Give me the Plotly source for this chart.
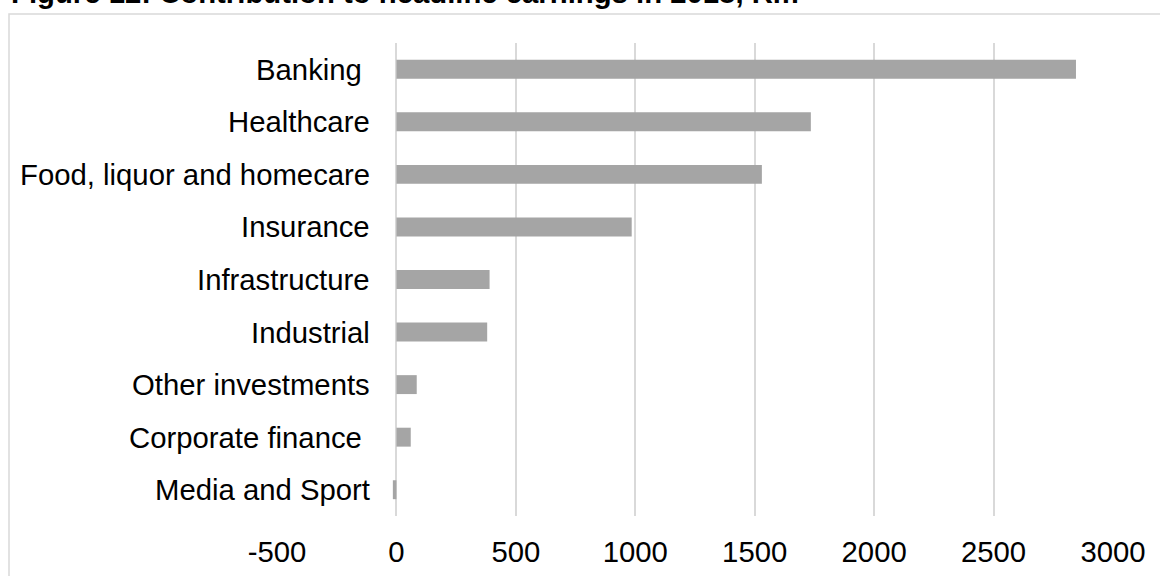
import plotly.graph_objects as go

# Contribution to headline earnings by business segment, Rm
categories = [
    "Banking ",
    "Healthcare",
    "Food, liquor and homecare",
    "Insurance",
    "Infrastructure",
    "Industrial",
    "Other investments",
    "Corporate finance ",
    "Media and Sport",
]
earnings_rm = [2845, 1735, 1530, 985, 390, 380, 85, 60, -15]

x_tick_values = [-500, 0, 500, 1000, 1500, 2000, 2500, 3000]
x_tick_labels = ["-500", "0", "500", "1000", "1500", "2000", "2500", "3000"]

title_text = "Figure 12: Contribution to headline earnings in 2018, Rm"

W, H = 1160, 576
L, R, T, B = 277, 47, 43, 60
PW, PH = W - L - R, H - T - B

FONT = "Liberation Sans, Arial, sans-serif"
FONT_SIZE = 29.3
GRID = "#d9d9d9"
BAR = "#a5a5a5"


def px_x(px):
    return (px - L) / PW


def px_y(py):
    return (H - B - py) / PH


fig = go.Figure(
    go.Bar(
        x=earnings_rm,
        y=categories,
        orientation="h",
        marker=dict(color=BAR, line=dict(width=0)),
        hoverinfo="x+y",
    )
)

# category labels sit just left of the zero line, over the plot area
annotations = [
    dict(
        x=0, y=cat, xref="x", yref="y",
        text=cat, showarrow=False,
        xanchor="right", yanchor="middle", xshift=-24, yshift=0,
        font=dict(family=FONT, size=FONT_SIZE, color="#000000"),
    )
    for cat in categories
]

annotations.append(
    dict(
        x=px_x(9), y=px_y(11), xref="paper", yref="paper",
        text="<b>" + title_text + "</b>", showarrow=False,
        xanchor="left", yanchor="bottom",
        font=dict(family=FONT, size=FONT_SIZE, color="#000000"),
    )
)

fig.update_layout(
    width=W, height=H,
    margin=dict(l=L, r=R, t=T, b=B, pad=0, autoexpand=False),
    paper_bgcolor="#ffffff",
    plot_bgcolor="#ffffff",
    showlegend=False,
    bargap=0.64,
    font=dict(family=FONT, size=FONT_SIZE, color="#000000"),
    annotations=annotations,
    shapes=[
        dict(
            type="rect", xref="paper", yref="paper",
            x0=px_x(9), x1=px_x(1170), y0=px_y(600), y1=px_y(14),
            line=dict(color=GRID, width=1.5), fillcolor="rgba(0,0,0,0)",
        )
    ],
    xaxis=dict(
        range=[-500, 3000],
        tickmode="array", tickvals=x_tick_values, ticktext=x_tick_labels,
        showgrid=True, gridcolor=GRID, gridwidth=1.5,
        zeroline=True, zerolinecolor=GRID, zerolinewidth=1.5,
        showline=False, ticks="outside", ticklen=10, tickcolor="rgba(0,0,0,0)",
        tickfont=dict(family=FONT, size=FONT_SIZE, color="#000000"),
        automargin=False, fixedrange=True,
    ),
    yaxis=dict(
        categoryorder="array", categoryarray=categories,
        autorange="reversed",
        showticklabels=False, showgrid=False, zeroline=False, showline=False,
        ticks="", automargin=False, fixedrange=True,
    ),
)

fig.write_html("out.html")
